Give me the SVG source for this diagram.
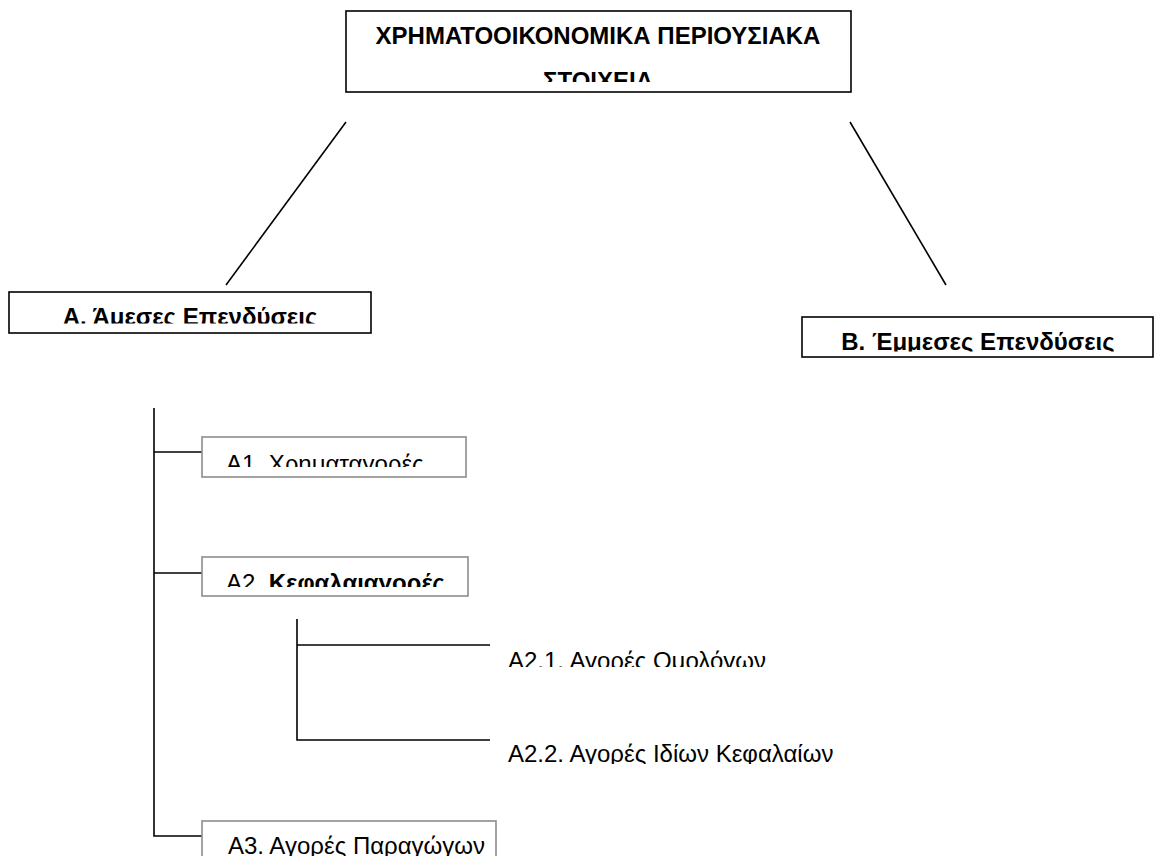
<svg xmlns="http://www.w3.org/2000/svg" width="1154" height="856" viewBox="0 0 1154 856">
<style>
.bk{fill:#fff;stroke:#000;stroke-width:1.6}
.gy{fill:#fff;stroke:#8c8c8c;stroke-width:1.6}
.wh{fill:#fff;stroke:none}
.ln{stroke:#000;stroke-width:1.6;fill:none}
text{font-family:"Liberation Sans",Arial,"DejaVu Sans",sans-serif;font-size:24px;fill:#000}
.b{font-weight:bold}
</style>
<defs>
<clipPath id="cT"><rect x="346" y="11" width="505" height="71"/></clipPath>
<clipPath id="cA"><rect x="9" y="292" width="362" height="31.5"/></clipPath>
<clipPath id="cB"><rect x="802" y="317" width="352" height="34.5"/></clipPath>
<clipPath id="c1"><rect x="202" y="437" width="264" height="30"/></clipPath>
<clipPath id="c2"><rect x="202" y="557" width="266" height="30"/></clipPath>
<clipPath id="c3"><rect x="202" y="821" width="294" height="35"/></clipPath>
<clipPath id="c21"><rect x="490" y="628" width="300" height="39"/></clipPath>
<clipPath id="c22"><rect x="490" y="724" width="380" height="40"/></clipPath>
</defs>
<rect width="1154" height="856" fill="#fff"/>
<g id="connectors">
<line class="ln" x1="346" y1="122" x2="226" y2="285"/>
<line class="ln" x1="850" y1="122" x2="946" y2="285"/>
<polyline class="ln" points="154,408 154,836 202,836"/>
<line class="ln" x1="154" y1="452" x2="202" y2="452"/>
<line class="ln" x1="154" y1="573" x2="202" y2="573"/>
<polyline class="ln" points="297,619 297,740 490,740"/>
<line class="ln" x1="297" y1="645" x2="490" y2="645"/>
</g>
<g id="root">
<rect class="bk" x="346" y="11" width="505" height="81"/>
<g clip-path="url(#cT)">
<text class="b" x="598" y="44" text-anchor="middle">ΧΡΗΜΑΤΟΟΙΚΟΝΟΜΙΚΑ ΠΕΡΙΟΥΣΙΑΚΑ</text>
<text class="b" x="598" y="88.5" text-anchor="middle">ΣΤΟΙΧΕΙΑ</text>
</g>
</g>
<g id="nodeA">
<rect class="bk" x="9" y="292" width="362" height="41"/>
<text class="b" x="190" y="325" text-anchor="middle" clip-path="url(#cA)">Α. Άμεσες Επενδύσεις</text>
</g>
<g id="nodeB">
<rect class="bk" x="802" y="317" width="351" height="40"/>
<text class="b" x="978" y="350" text-anchor="middle" clip-path="url(#cB)">Β. Έμμεσες Επενδύσεις</text>
</g>
<g id="nodeA1">
<rect class="gy" x="202" y="437" width="264" height="40"/>
<text x="226" y="472" clip-path="url(#c1)">Α1. Χρηματαγορές</text>
</g>
<g id="nodeA2">
<rect class="gy" x="202" y="557" width="266" height="39"/>
<text x="226" y="591" clip-path="url(#c2)">Α2. <tspan class="b">Κεφαλαιαγορές</tspan></text>
</g>
<g id="nodeA21">
<rect class="wh" x="490" y="628" width="300" height="41"/>
<text x="508" y="669" clip-path="url(#c21)">Α2.1. Αγορές Ομολόγων</text>
</g>
<g id="nodeA22">
<rect class="wh" x="490" y="724" width="380" height="42"/>
<text x="508" y="762" clip-path="url(#c22)">Α2.2. Αγορές Ιδίων Κεφαλαίων</text>
</g>
<g id="nodeA3">
<rect class="gy" x="202" y="821" width="294" height="40"/>
<text x="228" y="854" clip-path="url(#c3)">Α3. Αγορές Παραγώγων</text>
</g>
</svg>
